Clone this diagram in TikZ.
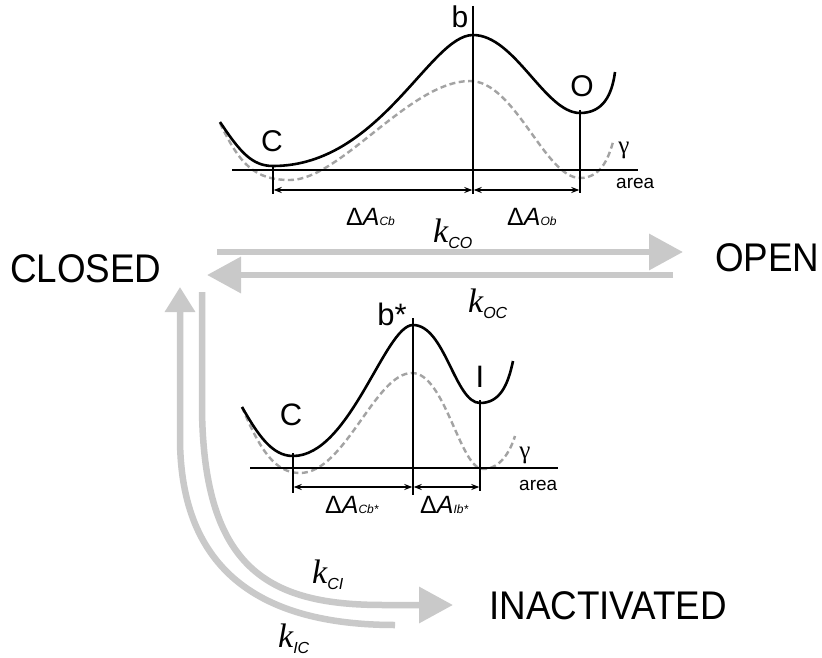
\documentclass[tikz,border=0pt]{standalone}
\usepackage{fontspec}
\setmainfont{Liberation Sans}
\newfontfamily\serifk{Liberation Serif}
\newfontfamily\statefont[FakeStretch=0.92]{Liberation Sans}
\usetikzlibrary{arrows.meta}

\definecolor{arrowgray}{HTML}{C9C9C9}
\definecolor{dashgray}{HTML}{A3A3A3}

\newcommand{\rateLabel}[1]{{\fontsize{34}{34}\selectfont\serifk\itshape k}\raisebox{-6pt}{\fontsize{16}{16}\selectfont\itshape #1}}
\newcommand{\deltaArea}[1]{{\fontsize{25}{25}\selectfont Δ\itshape A}{\fontsize{12}{12}\selectfont\itshape #1}}

\begin{document}
\begin{tikzpicture}[x=1pt,y=-1pt,
  statelabel/.style={font=\fontsize{40}{40}\selectfont\statefont, inner sep=0pt, anchor=base west},
  welllabel/.style={font=\fontsize{30}{30}\selectfont, inner sep=0pt, anchor=base},
  smalllabel/.style={font=\fontsize{19}{19}\selectfont, inner sep=0pt, anchor=base west},
  gammalabel/.style={font=\fontsize{25}{25}\selectfont\serifk, inner sep=0pt},
  ratelabel/.style={inner sep=0pt, anchor=base west},
  arealabel/.style={inner sep=0pt, anchor=base west},
  energy/.style={line width=2.6pt, black},
  gammacurve/.style={line width=2.4pt, dashgray, dash pattern=on 6pt off 3.5pt},
  axisline/.style={line width=1.3pt, black},
  dimarrow/.style={line width=1.3pt, {Stealth[length=8pt,width=6pt]}-{Stealth[length=8pt,width=6pt]}},
  transition/.style={line width=6.5pt, arrowgray, -{Triangle[length=34pt,width=35pt]}},
  transup/.style={line width=6.5pt, arrowgray, -{Triangle[length=25pt,width=29pt]}}
]
\useasboundingbox (0,0) rectangle (822,658);
\fill[white] (0,0) rectangle (822,658);

% ---------- state labels ----------
\node[statelabel] (closed) at (10,282) {CLOSED};
\node[statelabel] (open) at (715,271) {OPEN};
\node[statelabel] (inact) at (489,619) {INACTIVATED};

% ---------- transition arrows ----------
\coordinate (coS) at (217,252);
\coordinate (coE) at (683,252);
\coordinate (ocS) at (673,275);
\coordinate (ocE) at (207,275);
\coordinate (ciS) at (202,292);
\coordinate (ciE) at (453,605);
\coordinate (icS) at (395,625);
\coordinate (icE) at (180,287);

\draw[transition] (coS) -- (coE);
\draw[transition] (ocS) -- (ocE);
\draw[transition] (ciS) -- (202,410) .. controls (204,570) and (270,605) .. (383,605) -- (ciE);
\draw[transup] (icS) .. controls (260,625) and (181,570) .. (180,440) -- (icE);

\node[ratelabel] (kco) at (433,242) {\rateLabel{CO}};
\node[ratelabel] (koc) at (468,312) {\rateLabel{OC}};
\node[ratelabel] (kci) at (312,583) {\rateLabel{CI}};
\node[ratelabel] (kic) at (278,647) {\rateLabel{IC}};

% ---------- top energy landscape ----------
\draw[gammacurve] (220,123) .. controls (240,165) and (255,180) .. (290,180)
  .. controls (340,180) and (410,81) .. (470,81)
  .. controls (515,81) and (545,178) .. (580,178)
  .. controls (600,178) and (608,160) .. (613,142);
\draw[axisline] (232,170) -- (638,170);
\draw[axisline] (473,6) -- (473,194);
\draw[axisline] (273,166) -- (273,194);
\draw[axisline] (580,110) -- (580,193);
\draw[energy] (220,122) .. controls (240,152) and (252,166) .. (273,166)
  .. controls (380,166) and (430,35) .. (473,35)
  .. controls (515,35) and (545,113) .. (580,113)
  .. controls (603,113) and (612,95) .. (615,72);
\coordinate (tC) at (273,190);
\coordinate (tB) at (473,190);
\coordinate (tO) at (580,190);
\draw[dimarrow] ([xshift=0.7pt]tC) -- ([xshift=-0.7pt]tB);
\draw[dimarrow] ([xshift=0.7pt]tB) -- ([xshift=-0.7pt]tO);

\node[welllabel] (topC) at (272,152) {C};
\node[welllabel] (topb) at (460,28) {b};
\node[welllabel] (topO) at (582,97) {O};
\node[gammalabel] (topg) at (624,150) {γ};
\node[smalllabel] (toparea) at (616,188) {area};
\node[arealabel] (dacb) at (346,225) {\deltaArea{Cb}};
\node[arealabel] (daob) at (507,225) {\deltaArea{Ob}};

% ---------- bottom energy landscape ----------
\draw[gammacurve] (242,407) .. controls (260,450) and (275,473) .. (300,473)
  .. controls (345,473) and (375,373) .. (412,373)
  .. controls (445,373) and (460,469) .. (483,469)
  .. controls (500,469) and (510,452) .. (515,436);
\draw[axisline] (250,468) -- (558,468);
\draw[axisline] (413,318) -- (413,495);
\draw[axisline] (293,453) -- (293,493);
\draw[axisline] (480,400) -- (480,491);
\draw[energy] (242,407) .. controls (258,435) and (272,456) .. (293,456)
  .. controls (350,456) and (385,325) .. (413,325)
  .. controls (445,325) and (455,403) .. (480,403)
  .. controls (500,403) and (508,385) .. (513,361);
\coordinate (bC) at (293,487);
\coordinate (bB) at (413,487);
\coordinate (bI) at (480,487);
\draw[dimarrow] ([xshift=0.7pt]bC) -- ([xshift=-0.7pt]bB);
\draw[dimarrow] ([xshift=0.7pt]bB) -- ([xshift=-0.7pt]bI);

\node[welllabel, font=\fontsize{31}{31}\selectfont] (botC) at (291,425) {C};
\node[welllabel, font=\fontsize{31}{31}\selectfont] (botb) at (392,325) {b*};
\node[welllabel, font=\fontsize{31}{31}\selectfont] (botI) at (480,387) {I};
\node[gammalabel] (botg) at (525,455) {γ};
\node[smalllabel] (botarea) at (519,490) {area};
\node[arealabel] (dacbs) at (325,513) {\deltaArea{Cb*}};
\node[arealabel] (daibs) at (420,513) {\deltaArea{Ib*}};
\end{tikzpicture}
\end{document}
